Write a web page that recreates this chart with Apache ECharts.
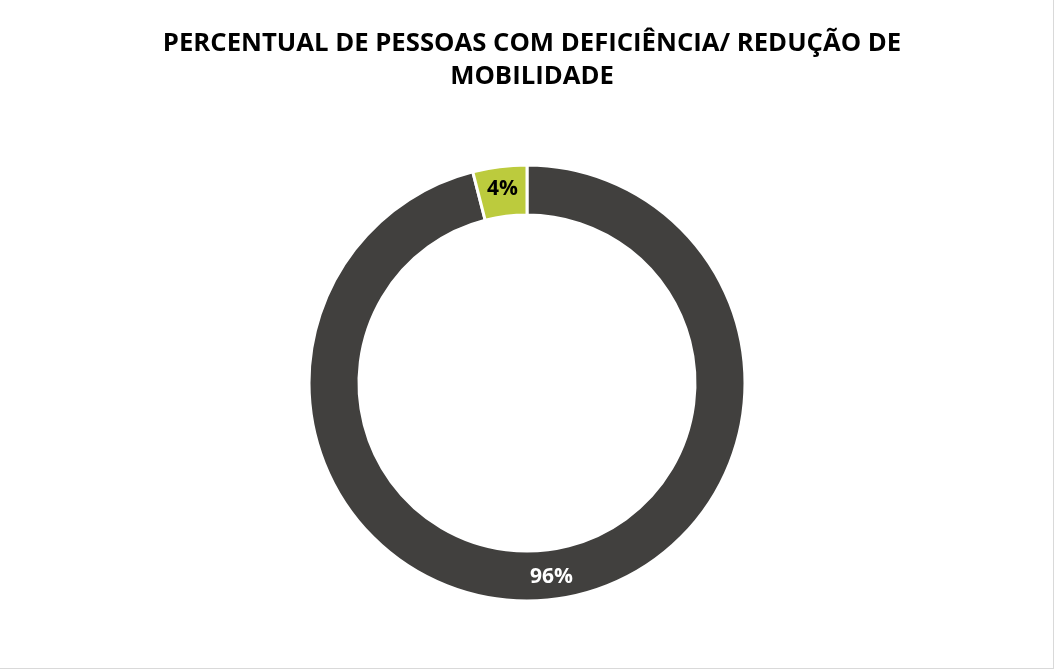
<!DOCTYPE html>
<html>
<head>
    <meta charset="utf-8">
    <title>Percentual de pessoas com deficiência</title>
    <script src="https://cdn.jsdelivr.net/npm/echarts@6/dist/echarts.min.js"></script>
    <style>
        * {
            margin: 0;
            padding: 0;
        }
        html, body {
            background: #fff;
        }
        #main {
            width: 1053px;
            height: 668px;
            border-right: 1px solid #d9d9d9;
            border-bottom: 1px solid #d9d9d9;
        }
    </style>
</head>
<body>
<div id="main"></div>
<script>
    var categories = ['Sem deficiência', 'Com deficiência/ redução de mobilidade'];
    var values = [96, 4];
    var colors = ['#41403e', '#bccb3d'];
    var labelColors = ['#ffffff', '#000000'];

    var chart = echarts.init(document.getElementById('main'));

    var pieData = categories.map(function (name, i) {
        return {
            name: name,
            value: values[i],
            itemStyle: { color: colors[i] },
            label: { color: labelColors[i] }
        };
    });

    var option = {
        animation: false,
        title: {
            text: 'PERCENTUAL DE PESSOAS COM DEFICIÊNCIA/ REDUÇÃO DE\nMOBILIDADE',
            left: 527,
            top: 22,
            textAlign: 'center',
            textStyle: {
                fontFamily: 'Open Sans',
                fontWeight: 'bold',
                fontSize: 25.7,
                lineHeight: 33,
                color: '#000'
            }
        },
        series: [
            {
                type: 'pie',
                center: [527, 383],
                radius: [168, 218],
                startAngle: 90,
                clockwise: true,
                itemStyle: {
                    borderColor: '#fff',
                    borderWidth: 3
                },
                label: {
                    show: true,
                    position: 'inside',
                    formatter: '{c}%',
                    fontFamily: 'Open Sans',
                    fontWeight: 'bold',
                    fontSize: 21
                },
                labelLine: { show: false },
                emphasis: { disabled: true },
                data: pieData
            }
        ]
    };
    chart.setOption(option);
</script>
</body>
</html>
